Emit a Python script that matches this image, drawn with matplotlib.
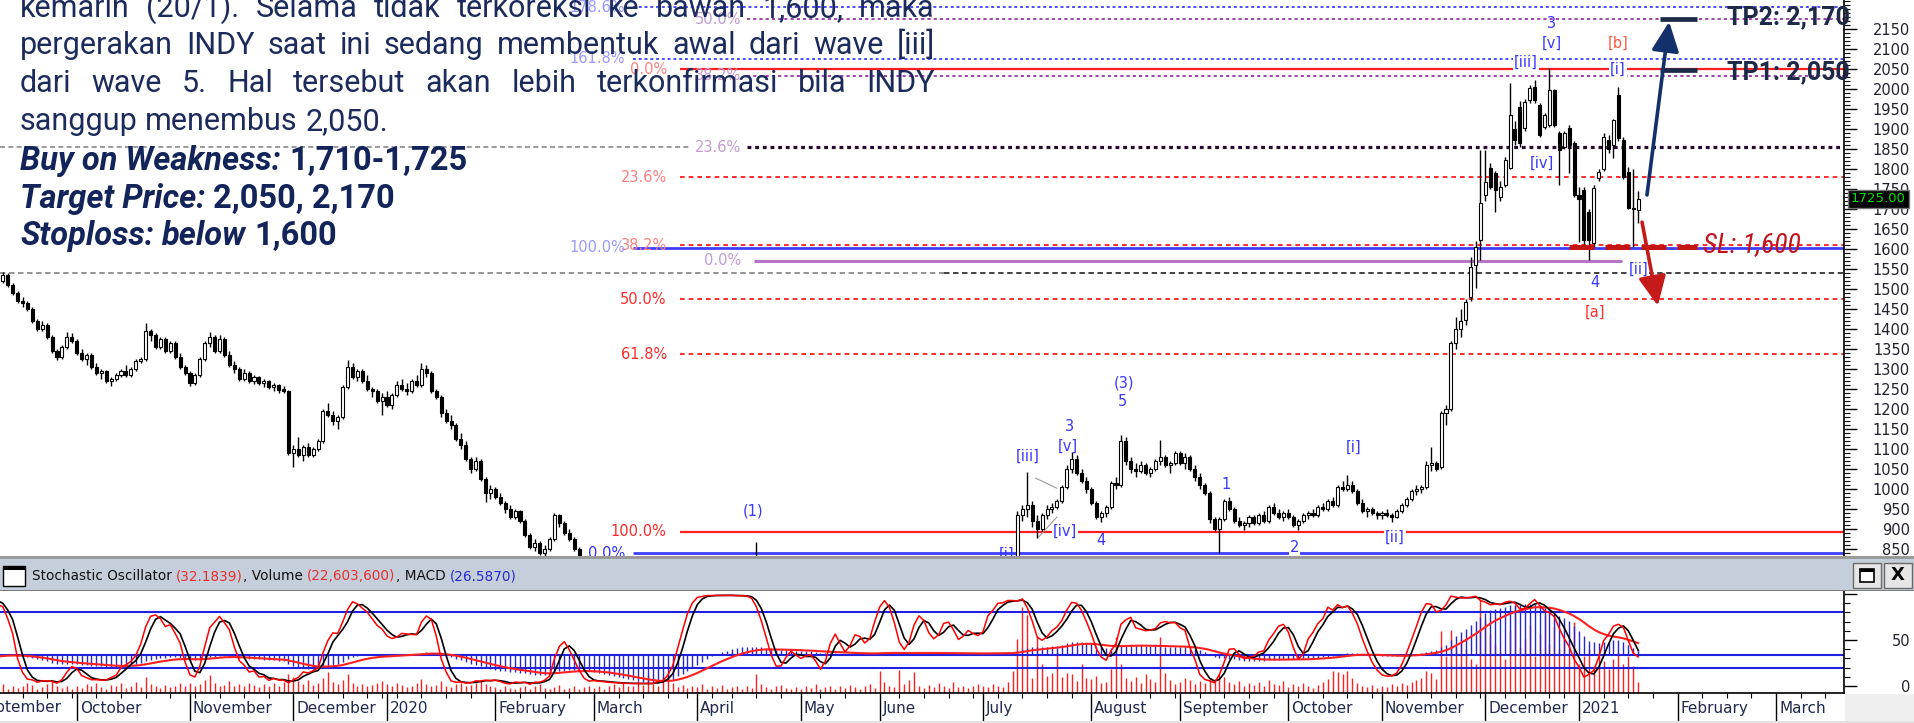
import numpy as np
import pandas as pd
import matplotlib
matplotlib.use("Agg")
import matplotlib.pyplot as plt
import matplotlib.transforms as mtrans
import matplotlib.font_manager as fm
from matplotlib.patches import Rectangle

# ============================ DATA ============================
holidays = ["2019-08-12", "2019-12-24", "2019-12-25", "2019-12-31", "2020-01-01",
            "2020-03-25", "2020-04-10", "2020-05-01", "2020-05-07", "2020-05-21",
            "2020-05-22", "2020-05-25", "2020-06-01", "2020-07-31", "2020-08-17",
            "2020-08-20", "2020-08-21", "2020-10-28", "2020-10-29", "2020-10-30",
            "2020-12-09", "2020-12-24", "2020-12-25", "2020-12-31", "2021-01-01"]
first_date = "2019-08-01"          # first (off-screen warm-up) candle
first_visible = "2019-09-09"

opens = [
    # Aug 2019 / early Sep (warm-up, off screen)
    1570,1560,1545,1530,1520,1500,1490,1470,1480,1460,1450,1455,1440,1450,1465,1470,1480,1475,1490,1500,1495,1510,1505,1515,1520,1530,
    # Sep 2019
    1535,1520,1535,1510,1490,1470,1465,1450,1420,1400,1410,1380,1345,1330,1355,1380,
    # Oct 2019
    1370,1340,1325,1335,1305,1290,1295,1270,1275,1285,1295,1285,1300,1320,1325,1395,1385,1355,1375,1345,1365,1330,1305,
    # Nov 2019
    1290,1265,1285,1325,1365,1380,1345,1375,1335,1310,1300,1275,1290,1270,1280,1265,1270,1255,1260,1250,1245,
    # Dec 2019
    1090,1100,1085,1105,1085,1100,1120,1195,1185,1170,1180,1255,1305,1280,1295,1270,1250,1245,1220,
    # Jan 2020
    1230,1210,1235,1260,1250,1245,1270,1260,1300,1290,1245,1230,1190,1170,1160,1125,1110,1075,1050,1070,1025,990,
    # Feb 2020
    1000,980,965,950,930,945,920,885,855,865,840,850,875,935,915,890,875,850,825,800,
    # Mar 2020 (below the visible price range)
    780,760,730,700,680,650,610,590,560,540,520,500,480,470,490,475,520,560,600,620,650,
    # Apr 2020
    690,715,740,760,775,785,795,805,812,818,822,825,810,800,780,765,750,760,785,795,785,
    # May 2020
    770,780,795,775,755,760,775,785,770,755,770,785,780,765,770,785,
    # Jun 2020
    795,815,825,805,785,775,785,805,820,810,795,790,800,810,820,805,795,800,810,805,800,
    # Jul 2020
    810,815,825,820,828,830,826,830,935,950,960,920,900,935,950,955,970,1005,1050,1075,1040,1020,
    # Aug 2020
    1000,965,930,940,955,1015,1010,1120,1070,1050,1045,1060,1040,1050,1070,1080,1060,1065,
    # Sep 2020
    1090,1065,1080,1050,1030,1010,990,925,900,925,970,950,920,910,915,930,915,935,920,955,940,930,
    # Oct 2020
    940,930,910,920,935,940,935,955,950,970,960,1005,1000,1010,995,965,945,950,940,
    # Nov 2020
    935,940,935,930,945,960,975,995,1000,1005,1060,1065,1056,1189,1200,1364,1400,1422,1480,1560,1622,
    # Dec 2020
    1735,1802,1789,1731,1760,1802,1900,1956,1902,1972,2006,1960,1906,1910,1997,1889,1856,1902,1864,
    # Jan 2021
    1735,1747,1693,1614,1777,1800,1872,1860,1985,1872,1793,1702,1697]
highs = [
    1580,1565,1550,1535,1525,1510,1495,1490,1485,1465,1465,1460,1455,1470,1475,1485,1485,1495,1505,1505,1515,1515,1520,1525,1535,1540,
    1545,1542,1540,1515,1495,1480,1470,1455,1425,1420,1415,1385,1350,1360,1393,1390,
    1375,1350,1340,1340,1315,1300,1298,1280,1290,1300,1310,1305,1325,1330,1414,1400,1390,1380,1380,1370,1370,1340,1310,
    1295,1290,1330,1370,1392,1385,1385,1380,1345,1320,1305,1300,1295,1285,1282,1275,1272,1265,1262,1258,1248,
    1110,1130,1110,1115,1105,1125,1200,1215,1195,1185,1260,1322,1315,1300,1300,1285,1255,1250,1240,
    1245,1240,1270,1275,1265,1275,1285,1314,1310,1295,1250,1235,1200,1185,1165,1140,1120,1080,1080,1075,1030,1010,
    1005,990,970,960,950,948,925,890,875,870,860,880,940,938,920,900,880,855,830,815,
    790,770,740,710,690,660,620,600,570,550,530,510,490,495,500,530,570,610,630,660,690,
    720,745,765,780,790,800,810,818,825,828,830,830,868,805,790,775,765,790,800,805,790,
    785,800,800,780,765,780,790,790,775,775,790,795,785,775,790,800,
    820,830,830,810,795,790,810,825,828,815,800,805,815,825,826,810,805,815,820,812,815,
    820,828,830,830,832,832,832,945,960,1043,970,935,940,960,965,975,1010,1060,1093,1085,1050,1030,
    1005,970,945,960,1020,1030,1135,1130,1080,1065,1070,1065,1055,1075,1122,1085,1070,1095,
    1095,1089,1085,1060,1040,1015,995,930,930,975,980,955,930,920,935,935,940,945,960,965,950,945,
    950,935,925,940,945,950,960,965,975,980,1010,1020,1035,1020,1000,975,955,955,945,
    945,950,940,950,965,980,1000,1010,1010,1070,1106,1070,1195,1210,1370,1430,1450,1475,1580,1620,1847,
    1847,1815,1795,1770,1830,2014,1920,1970,1975,2010,2022,1965,1940,2052,2000,1895,1895,1910,1870,
    1756,1755,1700,1760,1800,1890,1885,1925,2006,1880,1805,1800,1745]
lows = [
    1550,1540,1525,1510,1495,1480,1465,1465,1455,1440,1445,1435,1435,1445,1460,1465,1470,1470,1485,1490,1490,1500,1500,1510,1515,1525,
    1510,1515,1505,1485,1465,1455,1445,1415,1395,1395,1375,1340,1322,1325,1350,1365,
    1335,1320,1310,1300,1285,1275,1265,1257,1270,1280,1280,1280,1295,1315,1320,1370,1350,1350,1340,1340,1325,1300,1285,
    1258,1260,1280,1320,1355,1340,1340,1330,1305,1290,1270,1270,1265,1262,1260,1255,1250,1245,1240,1240,1085,
    1056,1080,1070,1080,1080,1095,1115,1180,1160,1150,1175,1250,1275,1270,1265,1245,1230,1215,1185,
    1205,1200,1230,1245,1235,1240,1255,1255,1280,1240,1225,1180,1165,1150,1120,1100,1070,1040,1045,1020,968,975,
    975,960,940,925,925,915,880,850,845,835,830,845,870,905,885,870,845,820,790,770,
    750,720,690,670,640,600,580,550,530,510,490,470,460,465,470,470,515,555,595,615,645,
    685,710,730,750,765,775,785,795,805,808,812,805,795,775,760,745,740,755,775,780,765,
    760,775,770,750,745,755,770,765,750,750,765,775,760,755,765,780,
    790,805,800,780,770,770,780,800,805,790,780,785,795,805,800,790,785,795,800,795,795,
    800,810,815,815,820,822,820,828,920,930,905,877,895,925,940,950,965,1000,1040,1035,1015,990,
    960,925,918,930,950,1000,1005,1060,1040,1030,1040,1035,1030,1045,1060,1055,1040,1060,
    1060,1050,1045,1020,1000,985,915,895,839,920,945,915,905,898,905,910,910,915,915,935,925,920,
    925,905,897,915,925,930,930,945,945,955,955,995,995,990,960,940,930,935,925,
    925,930,918,928,940,955,970,985,990,1000,1045,1045,1050,1160,1195,1350,1380,1410,1470,1502,1572,
    1720,1750,1693,1720,1755,1800,1860,1855,1895,1965,1965,1880,1900,1905,1905,1760,1850,1790,1730,
    1618,1610,1572,1605,1770,1795,1840,1827,1870,1775,1700,1605,1664]
closes = [
    1560,1545,1530,1520,1500,1490,1470,1480,1460,1450,1455,1440,1450,1465,1470,1480,1475,1490,1500,1495,1510,1505,1515,1520,1530,1535,
    1520,1535,1510,1490,1470,1465,1450,1420,1400,1410,1380,1345,1330,1355,1380,1370,
    1340,1325,1335,1305,1290,1295,1270,1275,1285,1295,1285,1300,1320,1325,1395,1385,1355,1375,1345,1365,1330,1305,1290,
    1265,1285,1325,1365,1380,1345,1375,1335,1310,1300,1275,1290,1270,1280,1265,1270,1255,1260,1248,1245,1090,
    1100,1085,1105,1085,1100,1120,1195,1185,1170,1180,1255,1305,1280,1295,1270,1250,1245,1220,1230,
    1210,1235,1260,1250,1245,1270,1260,1300,1290,1245,1230,1190,1170,1160,1125,1110,1075,1050,1070,1025,990,1000,
    980,965,950,930,945,920,885,855,865,840,850,875,935,915,890,875,850,825,800,780,
    760,730,700,680,650,610,590,560,540,520,500,480,470,490,475,520,560,600,620,650,680,
    715,740,760,775,785,795,805,812,818,822,825,810,800,780,765,750,760,785,795,785,770,
    780,795,775,755,760,775,785,770,755,770,785,780,765,770,785,795,
    815,825,805,785,775,785,805,820,810,795,790,800,810,820,805,795,800,810,805,800,810,
    815,825,820,828,830,826,830,935,950,960,920,900,935,950,955,970,1005,1050,1075,1040,1020,1000,
    965,930,940,955,1015,1010,1120,1070,1050,1045,1060,1040,1050,1070,1080,1060,1065,1090,
    1065,1080,1050,1030,1010,990,925,900,925,970,950,920,910,915,930,915,935,920,955,940,930,940,
    930,910,920,935,940,935,955,950,970,960,1005,1000,1010,995,965,945,950,940,935,
    940,935,930,945,960,975,995,1000,1005,1060,1065,1050,1189,1200,1364,1400,1420,1468,1556,1606,1714,
    1768,1756,1747,1756,1822,1935,1872,1864,1968,2002,1972,1885,1935,1997,1910,1847,1889,1860,1735,
    1725,1622,1622,1752,1793,1881,1850,1922,1877,1781,1702,1700,1725]
# volume in millions of shares, from 2019-09-09
volume_m = [
    12,18,9,15,11,14,21,17,9,12,18,27,14,11,15,9,
    14,11,18,15,21,12,9,17,14,20,11,15,23,12,33,18,14,11,17,12,15,20,14,
    21,15,18,27,36,20,14,17,24,15,18,14,21,17,12,18,15,20,14,23,39,
    33,24,18,27,17,21,30,44,23,18,27,39,21,15,18,14,17,20,24,
    18,14,21,17,12,15,20,29,18,14,17,24,15,12,18,21,14,17,20,27,18,15,
    12,9,14,11,8,12,15,9,14,18,11,8,12,17,9,11,14,8,12,15,
    11,15,9,14,18,12,21,15,14,24,17,36,18,14,33,38,21,12,17,11,14,
    12,18,9,14,11,17,8,12,15,9,14,11,38,18,12,9,14,17,11,8,12,
    9,14,11,18,8,12,15,9,14,11,17,12,9,14,18,11,
    45,22,15,12,48,18,26,42,14,11,17,12,20,15,10,22,12,15,11,14,18,
    14,12,18,15,13,22,45,110,176,160,30,115,60,35,40,84,32,40,38,25,60,30,
    28,35,20,22,50,115,60,30,25,32,20,38,28,22,115,40,26,18,
    22,30,26,18,24,20,30,28,40,32,22,18,25,15,20,17,22,14,26,19,16,24,
    12,18,15,20,14,10,16,22,28,45,42,38,45,30,20,14,12,16,10,
    14,12,18,15,20,16,22,26,30,45,40,28,127,75,130,95,110,90,70,60,190,
    150,120,100,85,70,130,180,95,110,140,75,120,160,100,135,90,110,80,145,
    60,75,90,55,80,65,50,70,85,60,75,55,22.6]

# Fibonacci tools (level label -> price)
red_fib = {"0.0%": 2050, "23.6%": 1779, "38.2%": 1610, "50.0%": 1474, "61.8%": 1337, "100.0%": 893}
blue_fib = {"178.6%": 2205, "161.8%": 2076, "100.0%": 1603, "0.0%": 840}
purple_fib = {"50.0%": 2175, "38.2%": 2033, "23.6%": 1855, "0.0%": 1571}
support_line = 1540
tp_prices = [2048, 2176]
tp_labels = ["TP1: 2,050", "TP2: 2,170"]
sl_price = 1605
sl_label = "SL: 1,600"
last_price_label = "1725.00"
last_price = 1725
price_ticks = list(range(850, 2151, 50))

# Elliott wave labels: (text, candle index, price, colour key, boxed)
wave_labels = [
    ("3", 315.5, 2165, "b", False), ("[v]", 315.5, 2115, "b", False),
    ("[iii]", 310.2, 2066, "b", True), ("[b]", 328.9, 2115, "o", False),
    ("[i]", 328.9, 2050, "b", True), ("[iv]", 313.5, 1815, "b", False),
    ("4", 324.2, 1517, "b", False), ("[ii]", 333.1, 1550, "b", True),
    ("[a]", 324.2, 1442, "r", False), ("(3)", 228.6, 1265, "b", False),
    ("5", 228.4, 1220, "b", False), ("3", 217.6, 1157, "b", False),
    ("[v]", 217.2, 1107, "b", False), ("[iii]", 209.1, 1082, "b", False),
    ("[iv]", 216.6, 895, "b", True), ("4", 223.9, 872, "b", False),
    ("1", 249.3, 1012, "b", False), ("[i]", 275.3, 1105, "b", False),
    ("[ii]", 283.6, 880, "b", True), ("2", 263.3, 855, "b", True),
    ("(1)", 153.3, 945, "b", False)]

para_lines = ["kemarin (20/1). Selama tidak terkoreksi ke bawah 1,600, maka",
              "pergerakan INDY saat ini sedang membentuk awal dari wave [iii]",
              "dari wave 5. Hal tersebut akan lebih terkonfirmasi bila INDY",
              "sanggup menembus 2,050."]
header_parts = [("Stochastic Oscillator ", "k"), ("(32.1839)", "r"), (", Volume ", "k"),
                ("(22,603,600)", "r"), (", MACD ", "k"), ("(26.5870)", "b")]

# ============================ SETUP ============================
W_PX, H_PX = 1915, 723
fig = plt.figure(figsize=(W_PX / 100, H_PX / 100), dpi=100)
fig.patch.set_facecolor("white")
renderer = fig.canvas.get_renderer()

avail = {f.name for f in fm.fontManager.ttflist}
COND = next((n for n in ["Liberation Sans Narrow", "Roboto Condensed", "Open Sans Condensed",
                         "Noto Sans Condensed"] if n in avail), "Roboto")
TXT = "Roboto" if "Roboto" in avail else "DejaVu Sans"
UI = "DejaVu Sans"

def fx(px): return px / W_PX
def fy(py): return 1 - py / H_PX

def width_px(s, **kw):
    t = fig.text(0, 0, "|" + s + "|", **kw)
    w = t.get_window_extent(renderer=renderer).width
    t.remove()
    t2 = fig.text(0, 0, "||", **kw)
    w2 = t2.get_window_extent(renderer=renderer).width
    t2.remove()
    return w - w2

def draw_runs(x, y, runs, **common):
    for s, kw in runs:
        k = dict(common); k.update(kw)
        lead = len(s) - len(s.lstrip(" "))
        sp = width_px(" ", **k) * lead
        fig.text(fx(x + sp), fy(y), s.strip(" "), **k)
        x += width_px(s, **k)
    return x

# dates / x positions (candle index, 0 = 2019-09-09)
days = pd.bdate_range(first_date, "2021-04-30")
days = days[~days.isin(pd.to_datetime(holidays))]
W = int((days < pd.Timestamp(first_visible)).sum())
xs_all = np.arange(len(days)) - W
N = len(closes)
x = xs_all[:N]
o = np.array(opens, float); h = np.array(highs, float)
l = np.array(lows, float); c = np.array(closes, float)
XLIM = (0.43, 374.8)

# axes
ax = fig.add_axes([0, fy(556), fx(1844), 556 / H_PX])
axi = fig.add_axes([0, fy(693), fx(1844), (693 - 590) / H_PX])
axs = axi.twinx()

# ============================ PRICE PANEL ============================
ax.set_xlim(*XLIM)
ax.set_ylim(832.5, 2222.5)
for sp_name in ["top", "left", "bottom"]:
    ax.spines[sp_name].set_visible(False)
ax.spines["right"].set_linewidth(1.2)
ax.set_xticks([])
ax.yaxis.tick_right()
ax.set_yticks(price_ticks)
ax.set_yticks(range(840, 2221, 10), minor=True)
ax.tick_params(axis="y", which="major", length=9.5, width=1, pad=38, labelsize=10.5,
               labelcolor="#22222e")
ax.tick_params(axis="y", which="minor", length=4.5, width=0.8)
for lb in ax.get_yticklabels():
    lb.set_ha("right")
    lb.set_fontfamily(UI)

xr = XLIM[1]
ls_dash = (0, (2.6, 2.2))
ls_dot = (0, (1.6, 1.6))
# red fib
rf_lbl_x, rf_start = 135.8, 138.5
for k_, v in red_fib.items():
    solid = k_ in ("0.0%", "100.0%")
    ax.hlines(v, rf_start, xr, color="#ff1e1e", lw=1.6 if solid else 1.3,
              linestyles="solid" if solid else ls_dash, zorder=1)
    col = "#ff8080" if v > 1560 else "#ff2a2a"
    ax.text(rf_lbl_x, v, k_, color=col, fontsize=10.5, ha="right", va="center", family=UI)
# blue fib
bf_lbl_x, bf_start = 127.3, 129.0
for k_, v in blue_fib.items():
    solid = k_ in ("0.0%", "100.0%")
    ax.hlines(v, bf_start, xr, color="#3d3dff", lw=2.0 if solid else 1.3,
              linestyles="solid" if solid else ls_dot, zorder=1)
    col = "#3030ff" if v < 1000 else "#9a9aff"
    ax.text(bf_lbl_x, v, k_, color=col, fontsize=10.5, ha="right", va="center", family=UI)
# purple fib
pf_lbl_x, pf_start = 150.9, 152.0
for k_, v in purple_fib.items():
    if k_ == "0.0%":
        ax.hlines(v, pf_start + 1.5, 329.7, color="#b774c4", lw=2.2, zorder=1)
    elif k_ == "23.6%":
        ax.hlines(v, pf_start, xr, color="#2a0a30", lw=2.3, linestyles=(0, (1.2, 1.2)), zorder=1)
        ax.hlines(v, XLIM[0], 140.5, color="#8a8a8a", lw=1.2, linestyles=(0, (3, 2)), zorder=1)
    else:
        ax.hlines(v, pf_start, xr, color="#a040b0", lw=1.4, linestyles=ls_dot, zorder=1)
    ax.text(pf_lbl_x, v, k_, color="#c49ad2", fontsize=10.5, ha="right", va="center", family=UI)
# horizontal support
ax.hlines(support_line, XLIM[0], 192, color="#8a8a8a", lw=1.3, linestyles=(0, (3, 2)), zorder=1)
ax.hlines(support_line, 192, xr, color="#333333", lw=1.3, linestyles=(0, (3, 2)), zorder=1)

# small wedge lines
ax.plot([210.7, 215.0], [1027, 1002], color="#9a9a9a", lw=0.8, zorder=2)
ax.plot([211.3, 215.0], [880, 930], color="#9a9a9a", lw=0.8, zorder=2)

# candles
up = c >= o
body = np.maximum(np.abs(c - o), 2.0)
ax.vlines(x, l, h, color="black", lw=1.0, zorder=3)
ax.bar(x, body, bottom=np.minimum(o, c), width=0.62,
       color=np.where(up, "white", "black"), edgecolor="black", linewidth=0.8, zorder=4)

# wave labels
cmap = {"b": "#3737ff", "r": "#ff3030", "o": "#ff5a3c"}
for txt, xi, yi, ck, boxed in wave_labels:
    kw = dict(color=cmap[ck], fontsize=10.5, ha="center", va="center", family=UI, zorder=6)
    if boxed:
        kw["bbox"] = dict(facecolor="white", edgecolor="none", pad=0.6)
    ax.text(xi, yi, txt, **kw)
ax.text(204.7, 838, "[i]", color=cmap["b"], fontsize=10.5, ha="center", va="center",
        family=UI, clip_on=True)

# TP / SL markers
ax.hlines(tp_prices, 337.4, 345.0, color="#1c2a48", lw=3.4, zorder=7)
ax.hlines(sl_price, 319.0, 345.0, color="#c41414", lw=3.6, linestyles=(0, (5, 2.2)), zorder=7)
ax.annotate("", xy=(339.3, 2168), xytext=(334.8, 1735),
            arrowprops=dict(arrowstyle="-|>,head_length=0.9,head_width=0.42", color="#14306a",
                            lw=2.6, shrinkA=0, shrinkB=0, mutation_scale=20), zorder=8)
ax.annotate("", xy=(337.0, 1458), xytext=(333.8, 1667),
            arrowprops=dict(arrowstyle="-|>,head_length=0.9,head_width=0.42", color="#c41a1a",
                            lw=2.6, shrinkA=0, shrinkB=0, mutation_scale=20), zorder=8)
ax.text(351.0, 2042, tp_labels[0], color="#1c2a48", fontsize=18, fontweight="bold",
        family=TXT, ha="left", va="center", zorder=9)
ax.text(351.0, 2180, tp_labels[1], color="#1c2a48", fontsize=18, fontweight="bold",
        family=TXT, ha="left", va="center", zorder=9)
ax.text(346.1, 1610, sl_label, color="#c0141c", fontsize=20, style="italic",
        family=COND, ha="left", va="center", zorder=9)
ax.text(1.0038, last_price, last_price_label,
        transform=mtrans.blended_transform_factory(ax.transAxes, ax.transData),
        color="#00e000", fontsize=9.5, family=UI, ha="left", va="center", zorder=10,
        bbox=dict(facecolor="black", edgecolor="#777777", pad=2.0), clip_on=False)

# ============================ INDICATOR PANEL ============================
vis = slice(W, N)
xv = x[vis]
axi.set_xlim(*XLIM)
axi.set_ylim(0, 211)
axi.set_yticks([])
axi.vlines(xv, 0, np.array(volume_m, float), color="#ff2020", lw=1.0, zorder=1)
for sp_name in ["top", "left"]:
    axi.spines[sp_name].set_visible(False)
    axs.spines[sp_name].set_visible(False)
axi.spines["right"].set_visible(False)
axs.spines["right"].set_linewidth(1.2)
axs.spines["bottom"].set_visible(False)
axi.spines["bottom"].set_linewidth(1.2)

C = pd.Series(c); Hs = pd.Series(h); Ls = pd.Series(l)
hh = Hs.rolling(14).max(); ll = Ls.rolling(14).min()
fast_k = 100 * (C - ll) / (hh - ll)
k_line = fast_k.rolling(3).mean()
d_line = k_line.rolling(3).mean()
macd = C.ewm(span=12, adjust=False).mean() - C.ewm(span=26, adjust=False).mean()
signal = macd.ewm(span=9, adjust=False).mean()
MACD_ZERO, MACD_SCALE = 33.5, 0.25

axs.set_ylim(-7.6, 104.3)
axs.axhline(MACD_ZERO, color="#2020e0", lw=1.5, zorder=2)
axs.vlines(x, MACD_ZERO, MACD_ZERO + MACD_SCALE * macd.values, color="#2828c8", lw=1.0, zorder=3)
axs.plot(x, MACD_ZERO + MACD_SCALE * signal.values, color="#ff2020", lw=1.5, zorder=4)
axs.axhline(80, color="#2020e0", lw=1.5, zorder=2)
axs.axhline(20, color="#2020e0", lw=1.5, zorder=2)
axs.plot(x, d_line.values, color="black", lw=1.2, zorder=5)
axs.plot(x, k_line.values, color="#ff0000", lw=1.1, zorder=6)

axs.set_yticks([0, 50, 100])
axs.set_yticklabels(["0", "50", ""])
axs.set_yticks(range(0, 101, 10), minor=True)
axs.tick_params(axis="y", which="major", length=9.5, width=1, pad=38, labelsize=10.5,
                labelcolor="#22222e")
axs.tick_params(axis="y", which="minor", length=4.5, width=0.8)
for lb in axs.get_yticklabels():
    lb.set_ha("right")
axs.tick_params(axis="x", which="both", bottom=False, labelbottom=False)

# month ticks
ser = pd.Series(xs_all, index=days)
firsts = ser.groupby([days.year, days.month]).first()
month_names = ["January", "February", "March", "April", "May", "June", "July", "August",
               "September", "October", "November", "December"]
mt_x, mt_lab = [], []
for (yr, mo), xi in firsts.items():
    mt_x.append(xi)
    mt_lab.append(str(yr) if mo == 1 else month_names[mo - 1])
mondays = [xi for d, xi in zip(days, xs_all) if d.weekday() == 0 and xi not in mt_x]
in_view = [(a, b) for a, b in zip(mt_x, mt_lab) if XLIM[0] <= a <= XLIM[1]]
axi.set_xticks([a for a, _ in in_view])
axi.set_xticklabels([b for _, b in in_view])
axi.set_xticks([m for m in mondays if XLIM[0] <= m <= XLIM[1]], minor=True)
axi.tick_params(axis="x", which="major", length=21, width=1, direction="out", pad=-15.5,
                labelsize=11, labelcolor="#1e2a4e")
axi.tick_params(axis="x", which="minor", length=3.5, width=0.8, direction="out")
off = mtrans.ScaledTranslation(3 / 100, 0, fig.dpi_scale_trans)
for lb in axi.get_xticklabels():
    lb.set_ha("left")
    lb.set_transform(lb.get_transform() + off)
# month label whose tick is left of the view (September 2019)
for a, b in zip(mt_x, mt_lab):
    if a < XLIM[0]:
        axi.text(a, 0, b, transform=mtrans.blended_transform_factory(axi.transData, axi.transAxes)
                 + mtrans.ScaledTranslation(3 / 100, -6.6 / 100, fig.dpi_scale_trans),
                 fontsize=11, color="#1e2a4e", ha="left", va="top", clip_on=False, family=UI)

# ============================ WINDOW CHROME ============================
def rect_px(x0, y0, x1, y1, **kw):
    fig.patches.append(Rectangle((fx(x0), fy(y1)), fx(x1) - fx(x0), fy(y0) - fy(y1),
                                 transform=fig.transFigure, **kw))

rect_px(0, 557, W_PX, 591, facecolor="#c5cfdb", edgecolor="none", zorder=0)
rect_px(0, 556, W_PX, 558.5, facecolor="#9a9a9a", edgecolor="none", zorder=0)
rect_px(0, 590, W_PX, 591.2, facecolor="#7a7a7a", edgecolor="none", zorder=0)
rect_px(1845, 693.5, W_PX, H_PX, facecolor="#efefef", edgecolor="none", zorder=0)
rect_px(0, 720.5, W_PX, H_PX, facecolor="#e2e2e2", edgecolor="none", zorder=0)
# left window icon
rect_px(3, 566, 25, 586, facecolor="white", edgecolor="black", linewidth=1, zorder=1)
rect_px(3, 566, 25, 569.5, facecolor="black", edgecolor="none", zorder=2)
# right buttons
rect_px(1853, 563, 1881, 588, facecolor="#e6e6e6", edgecolor="#6a6a6a", linewidth=1, zorder=1)
rect_px(1884, 563, 1912, 588, facecolor="#e6e6e6", edgecolor="#6a6a6a", linewidth=1, zorder=1)
rect_px(1860, 569, 1874, 582, facecolor="white", edgecolor="black", linewidth=1.2, zorder=2)
rect_px(1860, 569, 1874, 571.5, facecolor="black", edgecolor="none", zorder=3)
fig.text(fx(1898), fy(575.5), "X", fontsize=13, fontweight="bold", ha="center", va="center",
         family=UI, color="black")

# header text
hcol = {"k": "#111111", "r": "#e83030", "b": "#2a2ad0"}
draw_runs(32, 580, [(s, dict(color=hcol[ck])) for s, ck in header_parts],
          fontsize=9.8, family=UI, va="baseline")

# ============================ COMMENTARY TEXT ============================
para_kw = dict(family=TXT, fontsize=22, color="#1b2b5c", va="baseline")
baselines = [16.7, 54, 92, 130]
x_left, x_right = 20, 935
for i, (line, base) in enumerate(zip(para_lines, baselines)):
    words = line.split(" ")
    ws = [width_px(wd, **para_kw) for wd in words]
    if i < 3:
        gap = (x_right - x_left - sum(ws)) / (len(words) - 1)
    else:
        gap = width_px(" ", **para_kw)
    xx = x_left
    for wd, wv in zip(words, ws):
        fig.text(fx(xx), fy(base), wd, **para_kw)
        xx += wv + gap

BI = dict(style="italic", fontweight="bold")
B = dict(fontweight="bold")
bold_common = dict(family=TXT, fontsize=23.5, color="#13245a", va="baseline")
draw_runs(20, 170, [("Buy on Weakness:", BI), (" 1,710-1,725", B)], **bold_common)
draw_runs(20, 208, [("Target Price:", BI), (" 2,050, 2,170", B)], **bold_common)
draw_runs(20, 245, [("Stoploss:", BI), (" below", BI), (" 1,600", B)], **bold_common)

fig.savefig("out.png", dpi=100)
